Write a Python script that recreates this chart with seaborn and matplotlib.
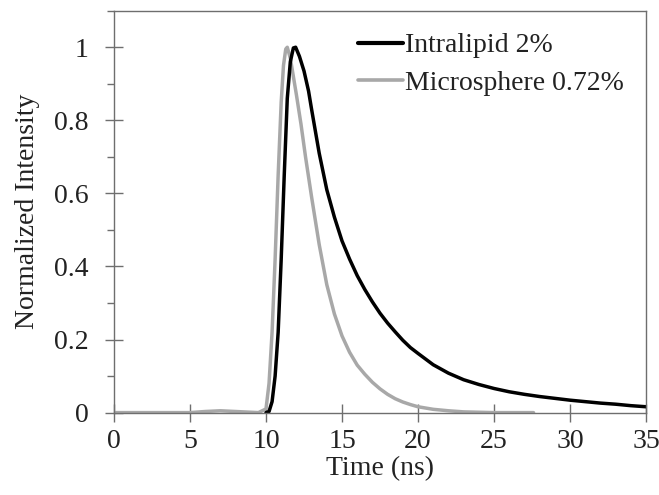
import numpy as np
import pandas as pd
import matplotlib
matplotlib.use("Agg")
import matplotlib.pyplot as plt
from matplotlib.ticker import MultipleLocator, FuncFormatter
from matplotlib.lines import Line2D
import seaborn as sns

# ---- data ----
intralipid_t = [10.0, 10.2, 10.4, 10.6, 10.8, 11.0, 11.2, 11.4, 11.6, 11.8, 11.95, 12.2, 12.5,
                12.8, 13.0, 13.5, 14.0, 14.5, 15.0, 15.5, 16.0, 16.5, 17.0, 17.5, 18.0, 18.5,
                19.0, 19.5, 20.0, 21.0, 22.0, 23.0, 24.0, 25.0, 26.0, 27.0, 28.0, 29.0, 30.0,
                31.0, 32.0, 33.0, 34.0, 35.0]
intralipid_v = [0.0, 0.003, 0.03, 0.10, 0.22, 0.42, 0.65, 0.86, 0.96, 0.998, 1.0, 0.975, 0.935,
                0.88, 0.83, 0.71, 0.61, 0.535, 0.47, 0.42, 0.375, 0.337, 0.303, 0.272, 0.245, 0.221,
                0.198, 0.178, 0.162, 0.131, 0.108, 0.09, 0.077, 0.066, 0.057, 0.05, 0.044, 0.039, 0.034,
                0.03, 0.026, 0.023, 0.019, 0.016]

micro_t = [0.0, 5.0, 6.0, 7.0, 8.0, 9.5, 10.0, 10.2, 10.4, 10.6, 10.8, 11.0, 11.15, 11.3, 11.4,
           11.6, 11.8, 12.0, 12.3, 12.6, 13.0, 13.5, 14.0, 14.5, 15.0, 15.5, 16.0, 16.5, 17.0,
           17.5, 18.0, 18.5, 19.0, 19.5, 20.0, 21.0, 22.0, 23.0, 24.0, 25.0, 27.6]
micro_v = [0.0, 0.0, 0.003, 0.005, 0.003, 0.0, 0.01, 0.08, 0.22, 0.42, 0.65, 0.85, 0.95, 0.995, 1.0,
           0.97, 0.92, 0.87, 0.79, 0.70, 0.59, 0.46, 0.35, 0.27, 0.21, 0.165, 0.13, 0.105, 0.083,
           0.065, 0.05, 0.038, 0.029, 0.022, 0.016, 0.009, 0.005, 0.002, 0.001, 0.0, 0.0]

series_names = ["Intralipid 2%", "Microsphere 0.72%"]
x_ticks = [0, 5, 10, 15, 20, 25, 30, 35]
y_ticks = [0, 0.2, 0.4, 0.6, 0.8, 1.0]

df = pd.concat([
    pd.DataFrame({"t": intralipid_t, "v": intralipid_v, "s": series_names[0]}),
    pd.DataFrame({"t": micro_t, "v": micro_v, "s": series_names[1]}),
], ignore_index=True)

sns.set_theme(style="ticks")
plt.rcParams["font.family"] = ["Liberation Serif", "DejaVu Serif"]

fig = plt.figure(figsize=(6.59, 4.95), dpi=100)
ax = fig.add_axes([114 / 659, 1 - 412.6 / 495, (646 - 114) / 659, (412.6 - 10.7) / 495])

palette = {series_names[0]: "#000000", series_names[1]: "#a8a8a8"}
sns.lineplot(data=df, x="t", y="v", hue="s", hue_order=series_names[::-1],
             palette=palette, ax=ax, linewidth=2.5, legend=False, sort=False,
             estimator=None)

ax.set_xlim(0, 35)
ax.set_ylim(0, 1.1)
ax.set_xticks(x_ticks)
ax.set_yticks(y_ticks)
ax.yaxis.set_minor_locator(MultipleLocator(0.1))
ax.yaxis.set_major_formatter(FuncFormatter(lambda v, p: f"{v:g}"))

spine_c = "#6e6e6e"
for s in ax.spines.values():
    s.set_visible(True)
    s.set_color(spine_c)
    s.set_linewidth(1.0)

ax.tick_params(axis="both", which="major", direction="inout", length=13, width=1.0,
               color=spine_c, labelsize=20, labelcolor="#222222")
ax.tick_params(axis="y", which="minor", direction="out", length=5, width=1.0, color=spine_c)
ax.tick_params(axis="y", which="major", pad=12)
ax.tick_params(axis="x", which="major", pad=5)

ax.set_xlabel("Time (ns)", fontsize=20, color="#222222", labelpad=2)
ax.set_ylabel("Normalized Intensity", fontsize=20, color="#222222", labelpad=10)

handles = [Line2D([], [], color=palette[n], lw=3.0 if i == 0 else 2.6) for i, n in enumerate(series_names)]
leg = ax.legend(handles, series_names, loc="upper left", bbox_to_anchor=(0.459, 0.945),
                frameon=False, fontsize=20, handlelength=1.6, handletextpad=0.1,
                labelspacing=0.45, borderpad=0, borderaxespad=0)
for t in leg.get_texts():
    t.set_color("#222222")

fig.savefig("out.png", dpi=100)
